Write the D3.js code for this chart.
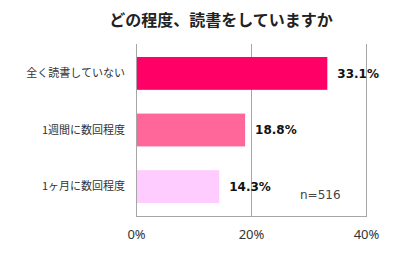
<!DOCTYPE html>
<html>
<head>
<meta charset="utf-8">
<script src="https://cdn.jsdelivr.net/npm/d3@7"></script>
<style>
  body { margin: 0; background: #fff; }
  svg { display: block; }
</style>
</head>
<body>
<div id="chart"></div>
<script>
var categories = ["全く読書していない", "1週間に数回程度", "1ヶ月に数回程度"];
var values = [33.1, 18.8, 14.3];
var barColors = ["#ff0066", "#ff6699", "#ffccff"];
var tickValues = [0, 20, 40];
var title = "どの程度、読書をしていますか";
var note = "n=516";

var width = 400, height = 256;
var plotLeft = 136, plotRight = 366, plotTop = 44, plotBottom = 216;

var svg = d3.select("#chart").append("svg")
    .attr("width", width)
    .attr("height", height);

var x = d3.scaleLinear().domain([0, 40]).range([plotLeft, plotRight]);
var y = d3.scaleBand().domain(categories).range([plotTop, plotBottom]).paddingInner(0.42).paddingOuter(0.23);

// title
svg.append("text")
    .attr("x", 221)
    .attr("y", 26)
    .attr("text-anchor", "middle")
    .attr("font-family", "'Noto Sans CJK JP', sans-serif")
    .attr("font-weight", "bold")
    .attr("font-size", 16)
    .attr("fill", "#222")
    .text(title);

// gridlines
svg.append("g").selectAll("line")
    .data(tickValues)
    .enter().append("line")
    .attr("x1", function(d) { return x(d) + 0.5; })
    .attr("x2", function(d) { return x(d) + 0.5; })
    .attr("y1", plotTop)
    .attr("y2", plotBottom)
    .attr("stroke", "#a6a6a6")
    .attr("stroke-width", 1);

// bottom axis line
svg.append("line")
    .attr("x1", plotLeft).attr("x2", plotRight + 1)
    .attr("y1", plotBottom + 0.5).attr("y2", plotBottom + 0.5)
    .attr("stroke", "#a6a6a6");

// tick labels
var xAxis = d3.axisBottom(x).tickValues(tickValues).tickSize(0).tickPadding(14)
    .tickFormat(function(d) { return d + "%"; });
var axisG = svg.append("g").attr("transform", "translate(0," + plotBottom + ")").call(xAxis);
axisG.select(".domain").remove();
axisG.selectAll("text")
    .attr("font-family", "'Noto Sans', sans-serif")
    .attr("font-size", 13)
    .attr("fill", "#333");

// bars
svg.append("g").selectAll("rect")
    .data(values)
    .enter().append("rect")
    .attr("x", x(0) + 1)
    .attr("y", function(d, i) { return y(categories[i]); })
    .attr("width", function(d) { return x(d) - x(0); })
    .attr("height", y.bandwidth())
    .attr("fill", function(d, i) { return barColors[i]; });

// category labels
svg.append("g").selectAll("text")
    .data(categories)
    .enter().append("text")
    .attr("x", plotLeft - 11)
    .attr("y", function(d) { return y(d) + y.bandwidth() / 2; })
    .attr("dy", "0.35em")
    .attr("text-anchor", "end")
    .attr("font-family", "'Noto Sans CJK JP', sans-serif")
    .attr("font-size", 11)
    .attr("fill", "#333")
    .text(function(d) { return d; });

// value labels
svg.append("g").selectAll("text")
    .data(values)
    .enter().append("text")
    .attr("x", function(d) { return x(d) + 11; })
    .attr("y", function(d, i) { return y(categories[i]) + y.bandwidth() / 2; })
    .attr("dy", "0.35em")
    .attr("font-family", "'DejaVu Sans', sans-serif")
    .attr("font-weight", "bold")
    .attr("font-size", 12)
    .attr("fill", "#111")
    .text(function(d) { return d.toFixed(1) + "%"; });

// sample size
svg.append("text")
    .attr("x", 300)
    .attr("y", 199)
    .attr("font-family", "'DejaVu Sans', sans-serif")
    .attr("font-size", 12)
    .attr("fill", "#444")
    .text(note);
</script>
</body>
</html>
